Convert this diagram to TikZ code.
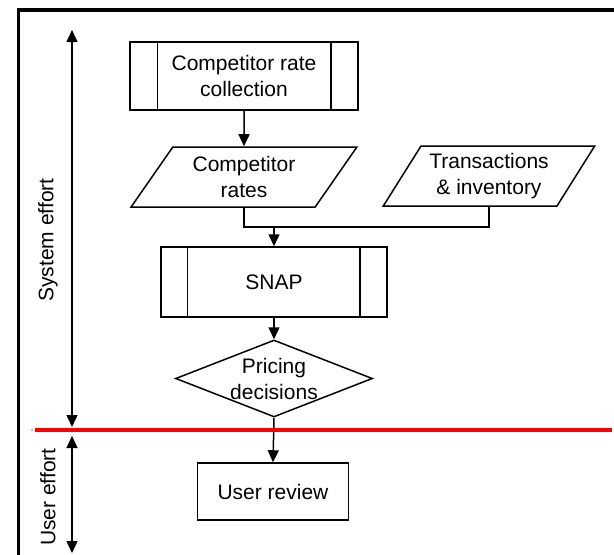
\documentclass[tikz,border=0pt]{standalone}
\usepackage{fontspec}
\setmainfont{Liberation Sans}
\usetikzlibrary{arrows.meta,shapes.geometric}

\begin{document}
\begin{tikzpicture}[x=1pt,y=-1pt,
  shapeline/.style={draw=black, line width=1.5pt},
  lbl/.style={font=\fontsize{21}{26}\selectfont, align=center, inner sep=0pt},
  procbox/.style={shapeline, lbl, minimum width=228pt, minimum height=68pt},
  plainbox/.style={shapeline, lbl, minimum width=151pt, minimum height=57pt},
  iobox/.style={shapeline, lbl, trapezium, trapezium left angle=54,
    trapezium right angle=126, trapezium stretches=true, minimum height=60pt},
  decision/.style={shapeline, diamond, inner sep=0pt, minimum width=197pt, minimum height=77pt},
  flow/.style={line width=1.5pt, -{Triangle[length=12pt,width=11pt]}},
  joint/.style={line width=1.5pt},
  span/.style={line width=1.5pt, {Triangle[length=12pt,width=11pt]}-{Triangle[length=12pt,width=11pt]}},
  axislbl/.style={lbl, rotate=90}
]
\useasboundingbox (0,0) rectangle (614,555);

% outer frame (top and left edges)
\draw[line width=3.5pt] (614,10) -- (18.5,10) -- (18.5,555);

% flow chart blocks
\node[procbox] (collect) at (244,76) {Competitor rate\\collection};
\draw[shapeline] ([xshift=28pt]collect.north west) -- ([xshift=28pt]collect.south west);
\draw[shapeline] ([xshift=-28pt]collect.north east) -- ([xshift=-28pt]collect.south east);

\node[iobox, minimum width=226pt] (rates) at (244,177) {Competitor\\rates};
\node[iobox, minimum width=212pt] (trans) at (489,176) {Transactions\\\& inventory};

\node[procbox, minimum width=226pt, minimum height=70pt] (snap) at (274,282) {SNAP};
\draw[shapeline] ([xshift=27pt]snap.north west) -- ([xshift=27pt]snap.south west);
\draw[shapeline] ([xshift=-28pt]snap.north east) -- ([xshift=-28pt]snap.south east);

\node[decision] (dec) at (274,378.5) {};
\node[lbl] (dectext) at (dec.center) {Pricing\\decisions};

\node[plainbox] (review) at (273,491.5) {User review};

% connectors
\coordinate (merge) at (274,227);
\draw[flow] (collect.south) -- (rates.north);
\draw[joint] (rates.south) |- (merge) -| (trans.south);
\draw[flow] (merge) -- (snap.north);
\draw[flow] (snap.south) -- (dec.north);
\draw[flow] (dec.south) -- (review.north);

% boundary between system and user effort
\fill[gray] (32,430) circle (0.9);
\draw[red, line width=3.5pt] (35,430) -- (612,430);

% effort spans
\coordinate (sysTop) at (72,30);
\coordinate (sysBot) at (72,427);
\coordinate (usrTop) at (72,436);
\coordinate (usrBot) at (72,553);
\draw[span] (sysTop) -- (sysBot);
\draw[span] (usrTop) -- (usrBot);
\node[axislbl] (syslbl) at (48,240) {System effort};
\node[axislbl] (usrlbl) at (48,497) {User effort};
\end{tikzpicture}
\end{document}
